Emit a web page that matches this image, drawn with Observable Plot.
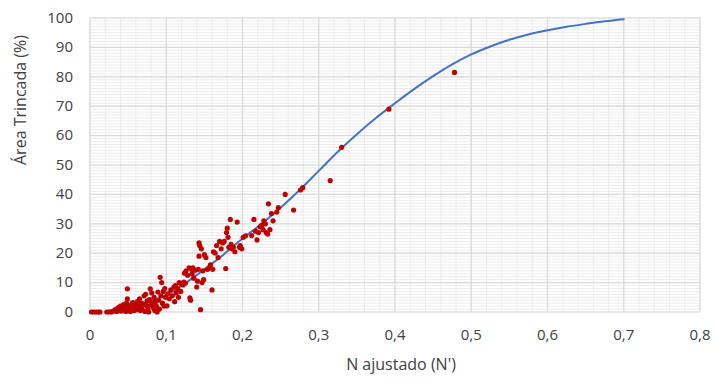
<!DOCTYPE html>
<html>
<head>
<meta charset="utf-8">
<script src="https://cdn.jsdelivr.net/npm/d3@7"></script>
<script src="https://cdn.jsdelivr.net/npm/@observablehq/plot@0.6"></script>
<style>
  html, body { margin: 0; padding: 0; background: #fff; }
</style>
</head>
<body>
<div id="chart"></div>
<script>
// Tick labels
const xTicks = [0, 0.1, 0.2, 0.3, 0.4, 0.5, 0.6, 0.7, 0.8];
const yTicks = [0, 10, 20, 30, 40, 50, 60, 70, 80, 90, 100];

// Fitted curve (N', Área Trincada %)
const curveX = [0.025, 0.05, 0.075, 0.1, 0.125, 0.15, 0.175, 0.2, 0.225, 0.25, 0.275, 0.3, 0.325, 0.35, 0.375, 0.4, 0.425, 0.45, 0.475, 0.5, 0.525, 0.55, 0.575, 0.6, 0.625, 0.65, 0.675, 0.7];
const curveY = [0.5, 1.5, 3.3, 5.8, 9.8, 14.5, 19.5, 25.0, 30.0, 35.5, 41.5, 48.0, 54.5, 60.5, 66.0, 71.0, 75.8, 80.2, 84.2, 87.6, 90.3, 92.6, 94.4, 95.8, 97.0, 98.0, 98.9, 99.6];

// Observed points
const pointX = [
  0.002,0.005,0.008,0.011,0.013,0.022,0.025,0.028,0.031,
  0.033,0.035,0.037,0.038,0.040,0.041,0.042,0.044,0.045,0.046,0.047,0.048,0.049,0.049,0.050,0.051,0.052,0.053,0.055,0.056,0.058,0.059,
  0.060,0.061,0.062,0.063,0.064,0.065,0.066,0.067,0.068,0.070,0.071,0.072,0.073,0.074,0.075,0.076,0.077,0.078,0.079,0.080,0.081,0.082,0.083,0.084,0.085,0.086,0.087,0.088,0.089,0.090,0.091,0.092,0.093,0.094,0.095,0.096,0.097,0.098,0.099,0.101,0.102,
  0.104,0.106,0.108,0.110,0.111,0.112,0.113,0.115,0.116,0.117,0.119,0.120,0.122,0.123,0.124,0.125,0.126,0.128,0.130,0.131,0.132,0.133,0.134,0.135,0.136,0.138,0.140,0.141,0.142,0.143,0.143,0.144,0.145,0.146,0.147,0.148,0.149,0.150,0.152,
  0.154,0.156,0.158,0.160,0.161,0.162,0.164,0.166,0.168,0.170,0.172,0.174,0.176,0.178,0.179,0.180,0.181,0.182,0.184,0.185,0.186,0.188,0.190,0.193,0.196,0.197,0.199,
  0.201,0.204,0.212,0.215,0.217,0.219,0.221,0.223,0.225,0.227,0.228,0.230,0.231,0.233,0.234,0.236,0.238,0.240,0.245,0.247,0.256,0.267,0.276,0.279,
  0.315,0.330,0.392,0.478
];
const pointY = [
  0,0,0,0,0,0,0,0,0.3,
  0.8,0.2,1.5,0.5,2.0,0.3,1.0,2.5,0.8,1.8,0.2,3.0,4.5,7.9,1.2,0.5,2.2,0.2,1.0,3.2,0.5,1.8,
  2.5,0.8,3.5,1.5,2.0,4.5,0.5,3.0,1.2,2.8,5.5,0.2,6.0,2.2,3.8,1.0,0,4.2,7.9,2.5,6.5,3.0,1.5,5.0,0.5,3.5,2.0,0,6.8,4.0,1.0,11.8,5.5,10.0,3.0,7.0,2.0,8.0,5.0,2.1,6.2,
  4.5,7.5,5.5,8.5,3.5,9.0,6.5,8.0,5.0,10.0,7.0,9.5,9.2,10.2,13.2,9.8,14.0,12.5,15.0,4.8,4.0,14.5,13.0,15.0,11.5,14.2,8.5,10.5,14.5,19.0,23.5,22.5,0.8,21.5,10.0,14.0,11.0,19.5,18.5,
  14.5,15.0,16.0,7.5,14.5,20.5,20.0,22.6,18.5,24.0,21.5,23.5,24.0,14.8,27.0,28.5,25.4,22.0,31.5,23.0,21.5,22.0,20.5,30.6,22.0,22.6,21.5,
  25.4,25.9,26.0,31.5,27.5,24.5,27.0,29.0,29.5,28.0,31.0,30.0,27.0,26.5,36.8,28.0,33.5,31.0,34.0,35.5,40.0,34.7,41.5,42.3,
  44.7,56.0,69.0,81.5
];

const curve = curveX.map((x, i) => ({x, y: curveY[i]}));
const points = pointX.map((x, i) => ({x, y: pointY[i]}));

const xMinor = d3.range(0, 41).map(i => i * 0.02);
const yMinor = d3.range(0, 101);

const fmtX = d => d === 0 ? "0" : d.toFixed(1).replace(".", ",");

const font = "'Open Sans', 'Noto Sans', sans-serif";

const chart = Plot.plot({
  width: 715,
  height: 383,
  marginLeft: 89.5,
  marginRight: 15.5,
  marginTop: 17.5,
  marginBottom: 71.5,
  style: {fontFamily: font, fontSize: "15px", color: "#404040", background: "#fff"},
  x: {domain: [0, 0.8]},
  y: {domain: [0, 100]},
  marks: [
    Plot.gridX(xMinor, {stroke: "#ececec", strokeOpacity: 1, strokeWidth: 1}),
    Plot.gridY(yMinor, {stroke: "#ececec", strokeOpacity: 1, strokeWidth: 1}),
    Plot.gridX(xTicks, {stroke: "#d9d9d9", strokeOpacity: 1, strokeWidth: 1.2}),
    Plot.gridY(yTicks, {stroke: "#d9d9d9", strokeOpacity: 1, strokeWidth: 1.2}),
    Plot.axisX(xTicks, {tickSize: 0, tickPadding: 17, tickFormat: fmtX, label: null, fontSize: 15, fill: "#404040"}),
    Plot.axisY(yTicks, {tickSize: 0, tickPadding: 17, label: null, fontSize: 15, fill: "#404040"}),
    Plot.line(curve, {x: "x", y: "y", stroke: "#4472c4", strokeWidth: 2, curve: "catmull-rom"}),
    Plot.dot(points, {x: "x", y: "y", r: 2.6, fill: "#c00000", stroke: "none"}),
    Plot.text(["N ajustado (N')"], {frameAnchor: "bottom", dy: 58, dx: 6, fontSize: 16, fill: "#404040", fontFamily: font}),
    Plot.text(["Área Trincada (%)"], {frameAnchor: "left", dx: -69, rotate: -90, fontSize: 16, fill: "#404040", fontFamily: font})
  ]
});

document.getElementById("chart").appendChild(chart);
</script>
</body>
</html>
